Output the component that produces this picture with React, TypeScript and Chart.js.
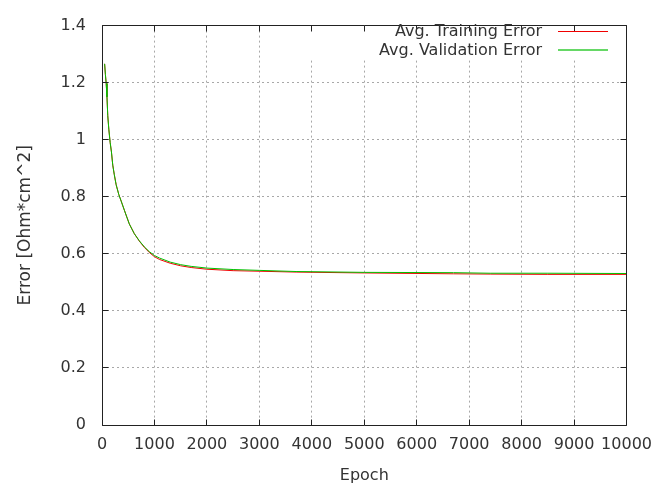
import React, { useEffect, useRef } from "react";
import { Chart, registerables } from "chart.js";

Chart.register(...registerables);

const epochs = [50, 65, 80, 95, 110, 130, 155, 180, 205, 235, 270, 320, 365, 430, 520, 615, 710, 805, 900, 1000, 1100, 1300, 1500, 1700, 2000, 2500, 3000, 3700, 5000, 6700, 7400, 8500, 10000];
const trainingError = [1.266, 1.228, 1.197, 1.15, 1.084, 1.037, 0.991, 0.957, 0.911, 0.877, 0.842, 0.808, 0.785, 0.751, 0.705, 0.671, 0.645, 0.623, 0.605, 0.59, 0.58, 0.567, 0.558, 0.552, 0.546, 0.541, 0.539, 0.536, 0.533, 0.53, 0.529, 0.528, 0.528];
const validationError = [1.266, 1.228, 1.197, 1.15, 1.084, 1.037, 0.991, 0.957, 0.911, 0.877, 0.842, 0.808, 0.785, 0.751, 0.705, 0.671, 0.646, 0.625, 0.608, 0.594, 0.585, 0.571, 0.562, 0.556, 0.55, 0.545, 0.542, 0.538, 0.535, 0.534, 0.532, 0.532, 0.531];

const xTickValues = [0, 1000, 2000, 3000, 4000, 5000, 6000, 7000, 8000, 9000, 10000];
const yTickValues = [0, 0.2, 0.4, 0.6, 0.8, 1, 1.2, 1.4];
const seriesLabels = ["Avg. Training Error", "Avg. Validation Error"];
const seriesColors = ["#f00000", "#00c000"];
const legendSampleColors = ["#f00000", "#66d866"];
const legendSampleWidths = [1, 2];
const xTitle = "Epoch";
const yTitle = "Error [Ohm*cm^2]";

const FONT = "DejaVu Sans";
const TEXT = "#333333";

const al = (p: number) => Math.round(p - 0.5) + 0.5;

const framePlugin = {
  id: "gnuFrame",
  beforeDatasetsDraw(chart: any) {
    // opaque key area (hides grid under the key, as gnuplot does)
    const { ctx, chartArea: a } = chart;
    ctx.save();
    ctx.fillStyle = "#ffffff";
    ctx.fillRect(290, a.top + 1, a.right - 290, 58 - a.top);
    ctx.restore();
  },
  afterDatasetsDraw(chart: any) {
    const { ctx, chartArea: a, scales } = chart;
    const L = al(a.left), R = al(a.right), T = al(a.top), B = al(a.bottom);
    ctx.save();
    ctx.strokeStyle = "#222222";
    ctx.lineWidth = 1;
    ctx.beginPath();
    ctx.rect(L, T, R - L, B - T);
    const tl = 6;
    for (const v of xTickValues) {
      const p = al(scales.x.getPixelForValue(v));
      ctx.moveTo(p, B); ctx.lineTo(p, B - tl);
      ctx.moveTo(p, T); ctx.lineTo(p, T + tl);
    }
    for (const v of yTickValues) {
      const p = al(scales.y.getPixelForValue(v));
      ctx.moveTo(L, p); ctx.lineTo(L + tl, p);
      ctx.moveTo(R, p); ctx.lineTo(R - tl, p);
    }
    ctx.stroke();

    // legend (gnuplot style: right-aligned text, sample on the right)
    ctx.font = `16px "${FONT}"`;
    ctx.textAlign = "right";
    ctx.textBaseline = "alphabetic";
    ctx.fillStyle = TEXT;
    const rows = [36, 55.3];
    chart.data.datasets.forEach((ds: any, i: number) => {
      const y = rows[i];
      ctx.fillText(ds.label, 542, y);
      const w = legendSampleWidths[i];
      const ly = w % 2 === 1 ? Math.round(y - 5) + 0.5 : Math.round(y - 5);
      ctx.beginPath();
      ctx.strokeStyle = legendSampleColors[i];
      ctx.lineWidth = w;
      ctx.moveTo(558, ly);
      ctx.lineTo(608, ly);
      ctx.stroke();
    });
    ctx.restore();
  },
};

export default function App() {
  const ref = useRef<HTMLCanvasElement | null>(null);

  useEffect(() => {
    if (!ref.current) return;
    const toPts = (ys: number[]) => epochs.map((x, i) => ({ x, y: ys[i] }));
    const chart = new Chart(ref.current, {
      type: "line",
      data: {
        datasets: [
          {
            label: seriesLabels[0],
            data: toPts(trainingError),
            borderColor: seriesColors[0],
            backgroundColor: seriesColors[0],
            borderWidth: 1,
            pointRadius: 0,
            tension: 0,
            fill: false,
            order: 1,
          },
          {
            label: seriesLabels[1],
            data: toPts(validationError),
            borderColor: seriesColors[1],
            backgroundColor: seriesColors[1],
            borderWidth: 1,
            pointRadius: 0,
            tension: 0,
            fill: false,
            order: 0,
          },
        ],
      },
      options: {
        responsive: false,
        animation: false,
        devicePixelRatio: 1,
        layout: { padding: { top: 17, right: 33, bottom: 0, left: 0 } },
        plugins: { legend: { display: false }, tooltip: { enabled: false } },
        font: { family: FONT, size: 16 },
        scales: {
          x: {
            type: "linear",
            min: 0,
            max: 10000,
            afterBuildTicks: (s: any) => {
              s.ticks = xTickValues.map((v) => ({ value: v }));
            },
            afterFit: (s: any) => {
              s.height = 60;
            },
            ticks: {
              autoSkip: false,
              maxRotation: 0,
              padding: 10,
              color: TEXT,
              font: { family: FONT, size: 16 },
              callback: (v: any) => String(v),
            },
            grid: { color: "#a8a8a8", lineWidth: 1, drawTicks: false },
            border: { display: false, dash: [2, 3] },
            title: {
              display: true,
              text: xTitle,
              color: TEXT,
              font: { family: FONT, size: 16 },
              padding: { top: 3, bottom: 0 },
            },
          },
          y: {
            type: "linear",
            min: 0,
            max: 1.4,
            afterBuildTicks: (s: any) => {
              s.ticks = yTickValues.map((v) => ({ value: v }));
            },
            afterFit: (s: any) => {
              s.width = 102;
            },
            ticks: {
              padding: 16,
              color: TEXT,
              font: { family: FONT, size: 16 },
              callback: (v: any) => String(Math.round(v * 10) / 10),
            },
            grid: { color: "#a8a8a8", lineWidth: 1, drawTicks: false },
            border: { display: false, dash: [2, 3] },
            title: {
              display: true,
              text: yTitle,
              color: TEXT,
              font: { family: FONT, size: 17 },
              padding: { top: 15, bottom: 0 },
            },
          },
        },
      } as any,
      plugins: [framePlugin],
    });
    return () => chart.destroy();
  }, []);

  return (
    <div style={{ position: "absolute", left: 0, top: 0, width: 662, height: 485, background: "#fff" }}>
      <canvas ref={ref} width={662} height={485} style={{ display: "block" }} />
    </div>
  );
}
